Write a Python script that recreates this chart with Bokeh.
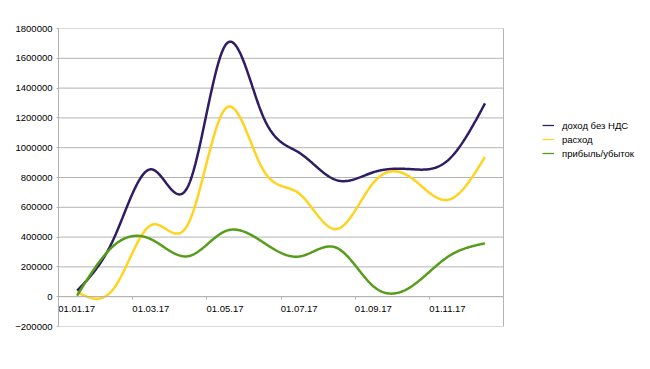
import numpy as np
from bokeh.plotting import figure
from bokeh.models import FixedTicker, Legend, LegendItem, Range1d, BasicTickFormatter, Span
from bokeh.embed import file_html
from bokeh.resources import INLINE

# ---- data ----
months = ["01.17", "02.17", "03.17", "04.17", "05.17", "06.17",
          "07.17", "08.17", "09.17", "10.17", "11.17", "12.17"]
income = [40000, 395000, 855000, 745000, 1688000, 1220000,
          965000, 782000, 836000, 856000, 915000, 1297000]
expense = [33000, 58000, 481000, 490000, 1262000, 860000,
           690000, 454000, 767000, 800000, 650000, 939000]
profit = [7000, 345000, 385000, 272000, 440000, 368000,
          270000, 328000, 68000, 66000, 268000, 358000]
tick_labels = ["01.01.17", "01.03.17", "01.05.17", "01.07.17", "01.09.17", "01.11.17"]
series_names = ["доход без НДС", "расход", "прибыль/убыток"]
y_ticks = list(range(-200000, 1800001, 200000))

colors = ["#2f1d63", "#ffd320", "#579d1c"]
GRID = "#b3b3b3"
FONT = "Liberation Sans"
FSIZE = "9.5px"

PLOT_W = 445      # px width of the month axis area
FRAME_W = 590     # frame continues to the right to hold the legend


def natural_cubic(xk, yk, xs):
    xk = np.asarray(xk, float)
    yk = np.asarray(yk, float)
    n = len(xk)
    h = np.diff(xk)
    A = np.zeros((n, n))
    b = np.zeros(n)
    A[0, 0] = 1.0
    A[-1, -1] = 1.0
    for i in range(1, n - 1):
        A[i, i - 1] = h[i - 1]
        A[i, i] = 2 * (h[i - 1] + h[i])
        A[i, i + 1] = h[i]
        b[i] = 6 * ((yk[i + 1] - yk[i]) / h[i] - (yk[i] - yk[i - 1]) / h[i - 1])
    M = np.linalg.solve(A, b)
    idx = np.clip(np.searchsorted(xk, xs) - 1, 0, n - 2)
    x0, x1 = xk[idx], xk[idx + 1]
    y0, y1 = yk[idx], yk[idx + 1]
    m0, m1 = M[idx], M[idx + 1]
    hh = x1 - x0
    t0 = x1 - xs
    t1 = xs - x0
    return (m0 * t0 ** 3 / (6 * hh) + m1 * t1 ** 3 / (6 * hh)
            + (y0 / hh - m0 * hh / 6) * t0 + (y1 / hh - m1 * hh / 6) * t1)


n_m = len(months)
x = np.arange(n_m) + 0.5
xs = np.linspace(x[0], x[-1], 600)

tick_pos = [float(months.index(lbl[3:])) for lbl in tick_labels]
label_pos = [round(t + 0.49, 2) for t in tick_pos]

p = figure(frame_width=FRAME_W, frame_height=298, output_backend="svg",
           toolbar_location=None,
           x_range=Range1d(0, n_m * FRAME_W / PLOT_W), y_range=Range1d(-200000, 1800000),
           min_border_left=58, min_border_right=0, min_border_top=28,
           min_border_bottom=27)
p.background_fill_color = "white"
p.border_fill_color = "white"
p.outline_line_color = None

# horizontal grid lines limited to the month area
p.xgrid.visible = False
p.ygrid.visible = False
p.segment(x0=[0] * len(y_ticks), x1=[n_m] * len(y_ticks), y0=y_ticks, y1=y_ticks,
          line_color=GRID, line_width=1)
p.add_layout(Span(location=n_m, dimension="height", line_color=GRID, line_width=1))

yax = p.yaxis[0]
yax.ticker = FixedTicker(ticks=y_ticks)
yax.formatter = BasicTickFormatter(use_scientific=False)
yax.axis_line_color = GRID
yax.major_tick_line_color = GRID
yax.major_tick_out = 2
yax.major_tick_in = 0
yax.minor_tick_line_color = None
yax.major_label_standoff = 4
yax.major_label_text_font = FONT
yax.major_label_text_font_size = FSIZE
yax.major_label_text_color = "#000000"

xax = p.xaxis[0]
xax.fixed_location = 0
xax.bounds = (0, n_m)
xax.ticker = FixedTicker(ticks=label_pos, minor_ticks=tick_pos)
xax.major_label_overrides = dict(zip(label_pos, tick_labels))
xax.major_tick_line_color = None
xax.major_tick_out = 3
xax.major_tick_in = 0
xax.minor_tick_line_color = GRID
xax.minor_tick_out = 3
xax.minor_tick_in = 0
xax.axis_line_color = GRID
xax.major_label_standoff = 6
xax.major_label_text_font = FONT
xax.major_label_text_font_size = FSIZE
xax.major_label_text_color = "#000000"

for vals, c in zip([income, expense, profit], colors):
    p.line(xs, natural_cubic(x, vals, xs), line_color=c, line_width=2.5)

items = []
for name, c in zip(series_names, colors):
    r = p.line(x=[np.nan], y=[np.nan], line_color=c, line_width=1.3)
    items.append(LegendItem(label=name, renderers=[r]))

legend = Legend(items=items, location=(484, 166), orientation="vertical",
                border_line_color=None, background_fill_alpha=0,
                label_text_font=FONT, label_text_font_size=FSIZE,
                label_text_color="#000000", glyph_width=12, glyph_height=14,
                label_height=14, spacing=0, padding=5, label_standoff=8, margin=0)
p.add_layout(legend)

open("out.html", "w").write(file_html(p, INLINE))
